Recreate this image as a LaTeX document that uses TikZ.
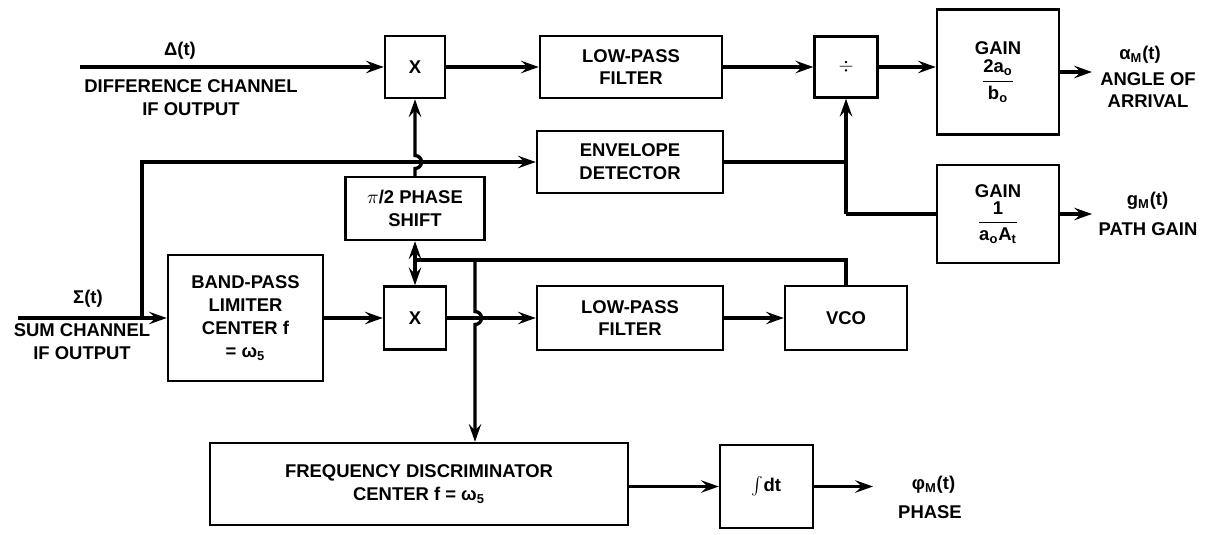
\documentclass[tikz,border=0pt]{standalone}
\usepackage{fontspec}
\setmainfont{Liberation Sans}
\usetikzlibrary{arrows.meta}

\begin{document}
\begin{tikzpicture}[>={Stealth[length=10pt,width=7pt,inset=3.5pt]},
 blk/.style={draw,line width=1.4pt,align=center,inner sep=2pt},
 txt/.style={align=center,inner sep=0pt},
 wire/.style={line width=1.9pt},
 font=\fontsize{10.5}{13}\selectfont\bfseries]
\useasboundingbox (0,0) rectangle (24.14,-10.68);
% blocks
\node[blk,minimum width=1.2cm,minimum height=1.24cm](mulA)at(8.3,-1.34){X};
\node[blk,minimum width=3.64cm,minimum height=1.24cm](lpfA)at(12.62,-1.34){LOW-PASS\\FILTER};
\node[blk,minimum width=1.26cm,minimum height=1.22cm](dv)at(16.92,-1.34){$\div$};
\node[blk,minimum width=2.44cm,minimum height=2.5cm](gainA)at(19.96,-1.44){GAIN\\[2pt]$\displaystyle\frac{\mbox{2a\textsubscript{o}}}{\mbox{b\textsubscript{o}}}$};
\node[blk,minimum width=3.72cm,minimum height=1.24cm](env)at(12.6,-3.24){ENVELOPE\\DETECTOR};
\node[blk,minimum width=2.44cm,minimum height=1.96cm](gainB)at(19.96,-4.28){GAIN\\[1pt]$\displaystyle\frac{\mbox{1}}{\mbox{a\textsubscript{o}A\textsubscript{t}}}$};
\node[blk,minimum width=2.78cm,minimum height=1.26cm](phase)at(8.3,-4.17){$\pi$/2 PHASE\\SHIFT};
\node[blk,minimum width=3.1cm,minimum height=2.52cm](bpl)at(4.91,-6.36){BAND-PASS\\LIMITER\\CENTER f\\= ω\textsubscript{5}};
\node[blk,minimum width=1.24cm,minimum height=1.26cm](mulB)at(8.3,-6.36){X};
\node[blk,minimum width=3.72cm,minimum height=1.28cm](lpfB)at(12.6,-6.36){LOW-PASS\\FILTER};
\node[blk,minimum width=2.44cm,minimum height=1.28cm](vco)at(16.92,-6.36){VCO};
\node[blk,minimum width=8.36cm,minimum height=1.64cm](disc)at(8.38,-9.68){FREQUENCY DISCRIMINATOR\\CENTER f = ω\textsubscript{5}};
\node[blk,minimum width=1.86cm,minimum height=1.66cm](integ)at(15.33,-9.73){{\large$\int$}dt};
% labels
\node[txt](lblD)at(3.6,-1.02){Δ(t)};
\node[txt](lblDc)at(3.82,-1.95){DIFFERENCE CHANNEL\\IF OUTPUT};
\node[txt](lblS)at(1.76,-5.98){Σ(t)};
\node[txt](lblSc)at(1.64,-6.84){SUM CHANNEL\\IF OUTPUT};
\node[txt](lblA)at(22.8,-1.1){α\textsubscript{M}(t)};
\node[txt](lblAc)at(22.96,-1.8){ANGLE OF\\ARRIVAL};
\node[txt](lblG)at(22.95,-4.02){g\textsubscript{M}(t)};
\node[txt](lblGc)at(22.96,-4.58){PATH GAIN};
\node[txt](lblP)at(18.67,-9.7){φ\textsubscript{M}(t)};
\node[txt](lblPc)at(18.6,-10.25){PHASE};
% points
\coordinate(din)at(1.6,-1.34);
\coordinate(sin)at(0.36,-6.36);
\coordinate(jS)at(2.84,-6.36);
\coordinate(jE)at(dv.south |- env.east);
\coordinate(jG)at(dv.south |- gainB.west);
\coordinate(fbR)at(vco.north |- 0,-5.2);
\coordinate(fbL)at(mulB.north |- 0,-5.2);
\coordinate(tap)at(9.5,-5.2);
\coordinate(outA)at(21.84,-1.44);
\coordinate(outB)at(21.84,-4.28);
\coordinate(outP)at(17.46,-9.73);
% connectors
\draw[wire,->](din)--(mulA.west);
\draw[wire,->](mulA.east)--(lpfA.west);
\draw[wire,->](lpfA.east)--(dv.west);
\draw[wire,->](dv.east)--(dv.east -| gainA.west);
\draw[wire,->](gainA.east)--(outA);
\draw[wire,->](sin)--(bpl.west);
\draw[wire,->](jS)--(jS |- env.west)--(env.west);
\draw[wire](env.east)--(jE);
\draw[wire,->](jG)--(dv.south);
\draw[wire](jG)--(gainB.west);
\draw[wire,->](gainB.east)--(outB);
\draw[wire,->](phase.north)--([yshift=-0.13cm]phase.north |- env.west)
 arc[start angle=-90,end angle=90,radius=0.13cm]--(mulA.south);
\draw[wire,->](bpl.east |- mulB.west)--(mulB.west);
\draw[wire,->](mulB.east)--(lpfB.west);
\draw[wire,->](lpfB.east)--(vco.west);
\draw[wire](vco.north)--(fbR)--(fbL);
\draw[wire,->](fbL)--(phase.south);
\draw[wire,->](fbL)--(mulB.north);
\draw[wire,->](tap)--([yshift=0.13cm]tap |- mulB.east)
 arc[start angle=90,end angle=-90,radius=0.13cm]--(tap |- disc.north);
\draw[wire,->](disc.east |- integ.west)--(integ.west);
\draw[wire,->](integ.east)--(outP);
\end{tikzpicture}
\end{document}
